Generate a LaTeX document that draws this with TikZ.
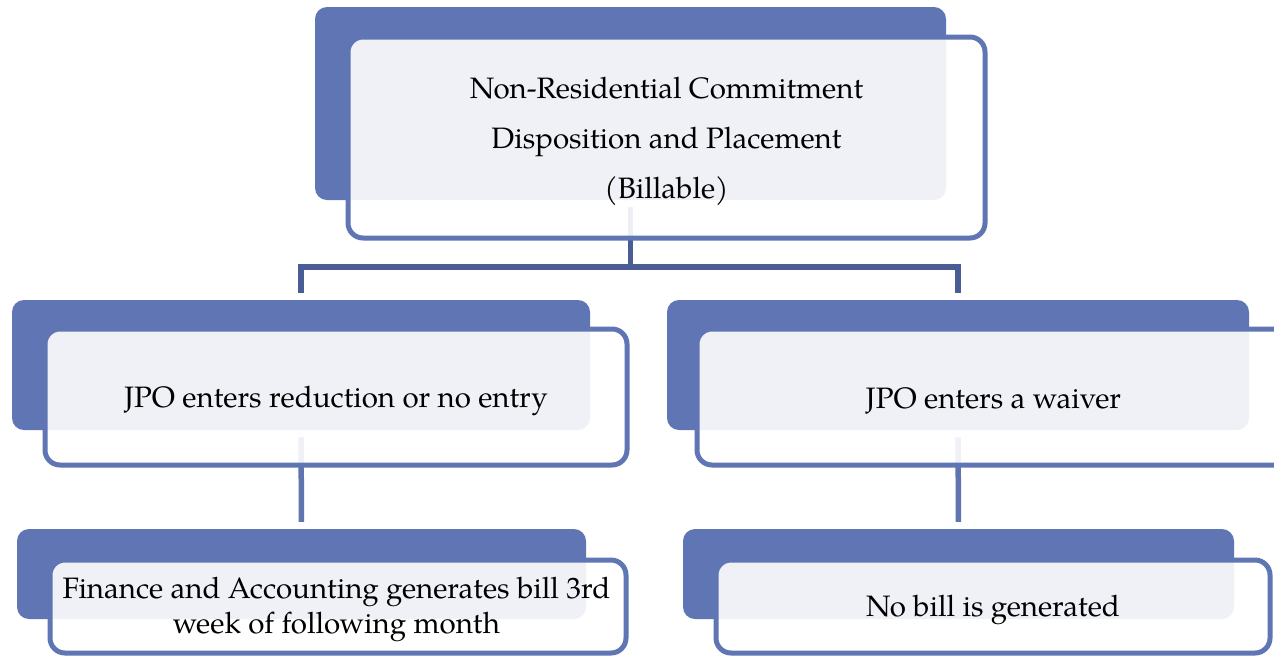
\documentclass[tikz,border=0pt]{standalone}
\usepackage{fontspec}
\setmainfont{TeX Gyre Pagella}
\usetikzlibrary{calc}

\definecolor{boxblue}{RGB}{96,118,180}
\definecolor{linkdark}{RGB}{74,92,148}
\definecolor{linklight}{RGB}{96,116,176}

\pgfdeclarehorizontalshading{sidefade}{100bp}{color(0bp)=(black!6); color(16bp)=(white); color(84bp)=(white); color(100bp)=(black!6)}
\pgfdeclarelayer{base}
\pgfdeclarelayer{links}
\pgfsetlayers{base,links,main}

\begin{document}
\begin{tikzpicture}[x=1pt,y=-1pt,
  backbox/.style={rectangle, rounded corners=12pt, fill=boxblue, inner sep=0pt,
    preaction={draw=white, line width=14pt}},
  frontbox/.style={rectangle, rounded corners=15pt, draw=boxblue, line width=5pt,
    fill=white, fill opacity=0.9, inner sep=0pt},
  boxtext/.style={align=center, inner sep=0pt, font=\fontsize{29.5}{35}\selectfont},
  link/.style={line width=5.5pt}
]
\useasboundingbox (0,0) rectangle (1274,657);
\clip (0,0) rectangle (1274,657);
\begin{pgfonlayer}{base}
  \shade[shading=sidefade] (0,0) rectangle (1274,657);
\end{pgfonlayer}

% top level
\node[backbox, minimum width=631pt, minimum height=193pt] (topB) at (630.5,103.5) {};
\node[frontbox, minimum width=637pt, minimum height=201pt] (topF) at (666.5,137.5) {};
\node[boxtext, font=\fontsize{29.5}{50}\selectfont] (topT) at ($(topF.center)+(0,3.5)$)
  {Non-Residential Commitment\\Disposition and Placement\\(Billable)};

% second level
\node[backbox, minimum width=578pt, minimum height=130pt] (midLB) at (301,365) {};
\node[frontbox, minimum width=582pt, minimum height=136pt] (midLF) at (336,397) {};
\node[boxtext] (midLT) at ($(midLF.center)+(0,3.5)$) {JPO enters reduction or no entry};

\node[backbox, minimum width=582pt, minimum height=130pt] (midRB) at (958,365) {};
\node[frontbox, minimum width=593pt, minimum height=136pt] (midRF) at (993.5,397) {};
\node[boxtext] (midRT) at ($(midRF.center)+(0,3.5)$) {JPO enters a waiver};

% third level
\node[backbox, minimum width=569pt, minimum height=90pt] (botLB) at (301.5,574) {};
\node[frontbox, minimum width=576pt, minimum height=93pt] (botLF) at (338,606.5) {};
\node[boxtext] (botLT) at ($(botLF.center)+(-1.5,3)$)
  {Finance and Accounting generates bill 3rd\\week of following month};

\node[backbox, minimum width=551pt, minimum height=90pt] (botRB) at (958.5,574) {};
\node[frontbox, minimum width=554pt, minimum height=93pt] (botRF) at (993,606.5) {};
\node[boxtext] (botRT) at ($(botRF.center)+(0,3)$) {No bill is generated};

% connectors, kept underneath the boxes
\begin{pgfonlayer}{links}
  \coordinate (hub) at ($(topB.south)+(0,67)$);
  \draw[link, linkdark] (topB.south) -- (hub) -| (midLB.north);
  \draw[link, linkdark] (hub) -| (midRB.north);
  \draw[link, linklight] (midLB.south) -- (botLB.north);
  \draw[link, linklight] (midRB.south) -- (botRB.north);
\end{pgfonlayer}
\end{tikzpicture}
\end{document}
